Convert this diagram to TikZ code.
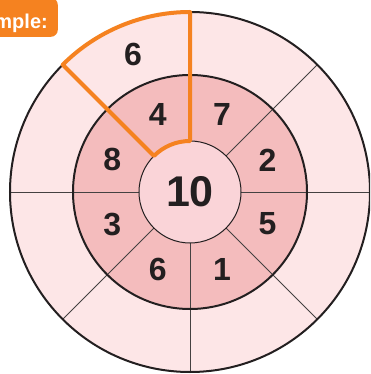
\documentclass[tikz,border=0pt]{standalone}
\usepackage{fontspec}
\setmainfont{Liberation Sans}
\usepackage{xcolor}
\definecolor{ringout}{RGB}{253,230,231}
\definecolor{ringmid}{RGB}{244,188,189}
\definecolor{hubfill}{RGB}{250,212,216}
\definecolor{hlorange}{RGB}{245,130,32}
\definecolor{inkdark}{RGB}{35,31,32}

\begin{document}
\begin{tikzpicture}[
    x=1pt, y=1pt,
    ringline/.style={draw=inkdark, line width=2pt},
    spoke/.style={draw=inkdark!85, line width=0.8pt},
    numlabel/.style={font=\fontsize{32}{36}\selectfont\bfseries, text=inkdark, inner sep=0pt},
    hubcircle/.style={circle, fill=hubfill, draw=inkdark, line width=1pt,
                      minimum size=102pt, inner sep=0pt,
                      font=\fontsize{43}{48}\selectfont\bfseries, text=inkdark},
    hilite/.style={draw=hlorange, line width=4pt, line join=round, line cap=round},
    tagbox/.style={fill=hlorange, text=white, rounded corners=7pt,
                   font=\fontsize{20}{24}\selectfont\bfseries,
                   inner xsep=10pt, inner ysep=4pt, text height=27pt, text depth=4pt}
]
\useasboundingbox (-190,-182) rectangle (180,192);
\clip (-190,-182) rectangle (180,192);
%% Outer and middle rings
\fill[ringout] (0,0) circle (180);
\fill[ringmid] (0,0) circle (117);
\foreach \a in {0,45,...,315}
    \draw[spoke] (\a:51) -- (\a:180);
\draw[ringline] (0,0) circle (180);
\draw[ringline] (0,0) circle (117);
%% Centre
\node[hubcircle] (hub) at (0,0) {10};
%% Middle ring numbers
\foreach \n/\a in {4/112.5, 7/67.5, 2/22.5, 5/-22.5, 1/-67.5, 6/-112.5, 3/-157.5, 8/157.5}
    \node[numlabel] (mid\n) at (\a:84) {\n};
%% Outer ring number
\node[numlabel] (outer6) at (112.5:149) {6};
%% Highlighted sector
\draw[hilite] (135:51) -- (135:180) arc[start angle=135, end angle=90, radius=180]
    -- (90:51) arc[start angle=90, end angle=135, radius=51] -- cycle;
%% Tag
\node[tagbox, anchor=south east] (tag) at (-132,155) {Example:};
\end{tikzpicture}
\end{document}
